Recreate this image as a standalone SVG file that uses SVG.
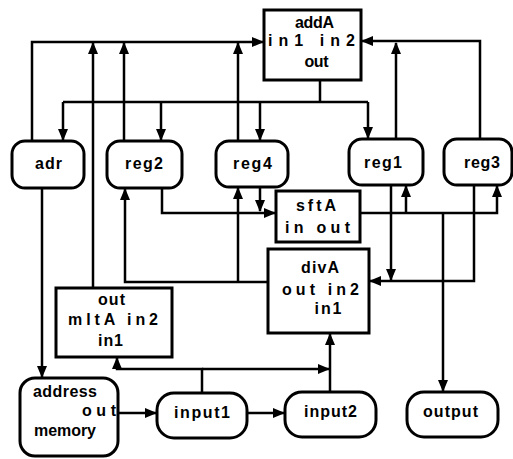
<svg xmlns="http://www.w3.org/2000/svg" width="513" height="459" viewBox="0 0 513 459">
<style>
.b{fill:#fff;stroke:#000;stroke-width:3}
.t{font-family:"Liberation Sans",Arial,sans-serif;font-weight:bold;font-size:16px;fill:#000;text-anchor:middle}
.s{text-anchor:start}
.e{text-anchor:end}
.c{fill:none;stroke:#000;stroke-width:2.5;stroke-linejoin:miter}
.a{marker-end:url(#ah)}
</style>
<defs>
<marker id="ah" markerWidth="12" markerHeight="11" refX="11" refY="5.5" orient="auto" markerUnits="userSpaceOnUse">
<path d="M0,0.5 L12,5.5 L0,10.5 z" fill="#000"/>
</marker>
</defs>
<rect width="513" height="459" fill="#fff"/>
<g id="connectors">
<path class="c a" d="M32,141 V42 H263"/>
<path class="c a" d="M93,288 V43"/>
<path class="c a" d="M124,141 V43"/>
<path class="c a" d="M238,141 V43"/>
<path class="c" d="M320,80 V102 M63,102 H368"/>
<path class="c a" d="M63,102 V140"/>
<path class="c a" d="M161,102 V140"/>
<path class="c a" d="M260,102 V140"/>
<path class="c a" d="M368,102 V138"/>
<path class="c a" d="M396,139 V43"/>
<path class="c a" d="M480,139 V41 H362"/>
<path class="c a" d="M162,188 V213 H275"/>
<path class="c a" d="M260,187 V211"/>
<path class="c a" d="M360,213 H497 V186"/>
<path class="c a" d="M406,213 V186"/>
<path class="c a" d="M443,213 V391"/>
<path class="c a" d="M391,185 V280"/>
<path class="c a" d="M474,185 V281 H370"/>
<path class="c a" d="M268,282 H125 V189"/>
<path class="c a" d="M238,282 V188"/>
<path class="c a" d="M42,188 V377"/>
<path class="c a" d="M118,413 H156"/>
<path class="c a" d="M247,413 H284"/>
<path class="c a" d="M202,393 V369 H117 V358"/>
<path class="c a" d="M202,369 H329"/>
<path class="c a" d="M330,392 V334"/>
</g>
<g id="addA">
<rect class="b" x="264" y="10" width="97" height="70"/>
<text class="t" x="314.5" y="28" textLength="39" lengthAdjust="spacing">addA</text>
<text class="t" x="311.5" y="46" textLength="87" lengthAdjust="spacing">in1 in2</text>
<text class="t" x="316.5" y="67" textLength="24" lengthAdjust="spacing">out</text>
</g>
<g id="adr">
<rect class="b" x="12" y="141" width="72" height="47" rx="13"/>
<text class="t" x="48.5" y="169" textLength="27" lengthAdjust="spacing">adr</text>
</g>
<g id="reg2">
<rect class="b" x="107" y="141" width="75" height="47" rx="13"/>
<text class="t" x="144" y="169" textLength="38" lengthAdjust="spacing">reg2</text>
</g>
<g id="reg4">
<rect class="b" x="216" y="141" width="72" height="46" rx="13"/>
<text class="t" x="252.5" y="169" textLength="39" lengthAdjust="spacing">reg4</text>
</g>
<g id="reg1">
<rect class="b" x="349" y="139" width="74" height="46" rx="13"/>
<text class="t" x="383" y="168" textLength="38" lengthAdjust="spacing">reg1</text>
</g>
<g id="reg3">
<rect class="b" x="444" y="139" width="68" height="46" rx="13"/>
<text class="t" x="482" y="168" textLength="36" lengthAdjust="spacing">reg3</text>
</g>
<g id="sftA">
<rect class="b" x="276" y="191" width="84" height="51"/>
<text class="t" x="316" y="211" textLength="40" lengthAdjust="spacing">sftA</text>
<text class="t" x="317.5" y="233" textLength="65" lengthAdjust="spacing">in out</text>
</g>
<g id="divA">
<rect class="b" x="268" y="249" width="101" height="84"/>
<text class="t" x="320" y="273" textLength="38" lengthAdjust="spacing">divA</text>
<text class="t" x="320.5" y="295" textLength="77" lengthAdjust="spacing">out in2</text>
<text class="t" x="328" y="314" textLength="27" lengthAdjust="spacing">in1</text>
</g>
<g id="mltA">
<rect class="b" x="56" y="288" width="116" height="69"/>
<text class="t" x="111.5" y="305" textLength="27" lengthAdjust="spacing">out</text>
<text class="t" x="113" y="325" textLength="90" lengthAdjust="spacing">mltA in2</text>
<text class="t" x="110.5" y="346" textLength="25" lengthAdjust="spacing">in1</text>
</g>
<g id="memory">
<rect class="b" x="20" y="378" width="98" height="78" rx="15"/>
<text class="t s" x="33" y="397" textLength="64" lengthAdjust="spacing">address</text>
<text class="t e" x="116" y="416" textLength="34" lengthAdjust="spacing">o u t</text>
<text class="t s" x="34" y="436" textLength="62" lengthAdjust="spacing">memory</text>
</g>
<g id="input1">
<rect class="b" x="157" y="393" width="90" height="45" rx="17"/>
<text class="t" x="202" y="418" textLength="56" lengthAdjust="spacing">input1</text>
</g>
<g id="input2">
<rect class="b" x="285" y="392" width="91" height="45" rx="17"/>
<text class="t" x="330.5" y="417" textLength="53" lengthAdjust="spacing">input2</text>
</g>
<g id="output">
<rect class="b" x="407" y="392" width="91" height="45" rx="17"/>
<text class="t" x="450.5" y="417" textLength="55" lengthAdjust="spacing">output</text>
</g>
</svg>
